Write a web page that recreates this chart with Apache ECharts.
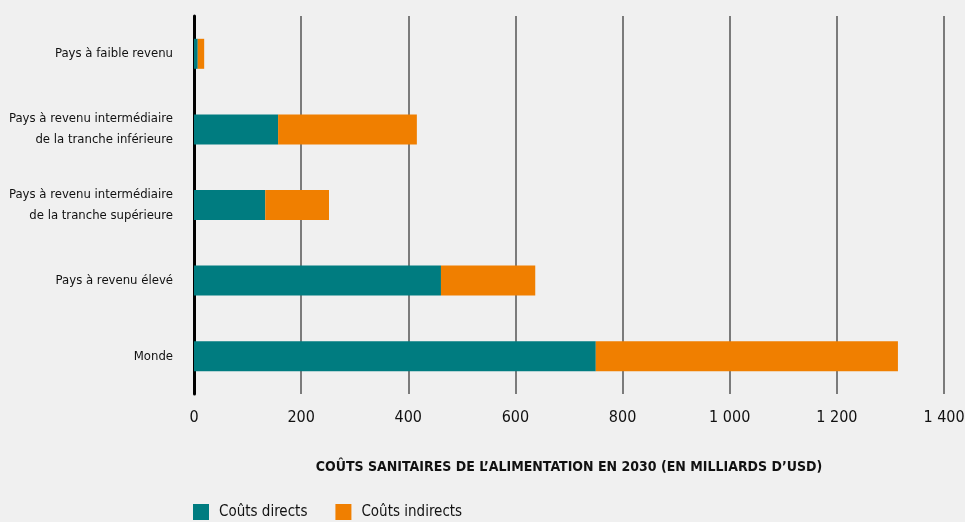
<!DOCTYPE html>
<html>
<head>
<meta charset="utf-8">
<script src="https://cdn.jsdelivr.net/npm/echarts@6/dist/echarts.min.js"></script>
<style>
  html, body { margin: 0; padding: 0; background: #f0f0f0; }
  #chart { width: 965px; height: 522px; }
</style>
</head>
<body>
<div id="chart"></div>
<script>
const categories = [
  'Pays à faible revenu',
  'Pays à revenu intermédiaire\nde la tranche inférieure',
  'Pays à revenu intermédiaire\nde la tranche supérieure',
  'Pays à revenu élevé',
  'Monde'
];
const directCosts = [7, 157, 133, 461, 750];
const indirectCosts = [12, 259, 119, 176, 564];
const xTicks = { min: 0, max: 1400, interval: 200 };

const font = '"Liberation Sans Narrow", "DejaVu Sans Condensed", sans-serif';
const chart = echarts.init(document.getElementById('chart'));

chart.setOption({
  backgroundColor: '#f0f0f0',
  textStyle: { fontFamily: font, color: '#111' },
  grid: { left: 194, right: 21, top: 16, bottom: 128, containLabel: false, outerBoundsMode: 'none' },
  legend: {
    left: 193, bottom: 2, padding: 0,
    itemWidth: 16, itemHeight: 16, itemGap: 28,
    icon: 'rect',
    textStyle: { fontFamily: font, fontSize: 15, color: '#111', padding: [0, 0, 0, 5] },
    data: ['Coûts directs', 'Coûts indirects']
  },
  xAxis: {
    type: 'value',
    min: xTicks.min, max: xTicks.max, interval: xTicks.interval,
    name: 'COÛTS SANITAIRES DE L’ALIMENTATION EN 2030 (EN MILLIARDS D’USD)',
    nameLocation: 'middle',
    nameGap: 66,
    nameTextStyle: { fontFamily: font, fontSize: 14, fontWeight: 'bold', color: '#111' },
    axisLine: { show: false },
    axisTick: { show: false },
    axisLabel: {
      margin: 16, fontSize: 16, color: '#111', fontFamily: font,
      formatter: v => String(v).replace(/\B(?=(\d{3})+(?!\d))/g, ' ')
    },
    splitLine: { show: true, lineStyle: { color: '#555', width: 1.5 } }
  },
  yAxis: {
    type: 'category',
    inverse: true,
    data: categories,
    axisLine: { show: true, lineStyle: { color: '#000', width: 3 } },
    axisTick: { show: false },
    axisLabel: { margin: 21, fontSize: 13, lineHeight: 21, color: '#111', fontFamily: font, align: 'right' }
  },
  series: [
    {
      name: 'Coûts directs', type: 'bar', stack: 'total',
      barWidth: 30, itemStyle: { color: '#007c80' },
      data: directCosts
    },
    {
      name: 'Coûts indirects', type: 'bar', stack: 'total',
      barWidth: 30, itemStyle: { color: '#f07f00' },
      data: indirectCosts
    }
  ]
});
</script>
</body>
</html>
